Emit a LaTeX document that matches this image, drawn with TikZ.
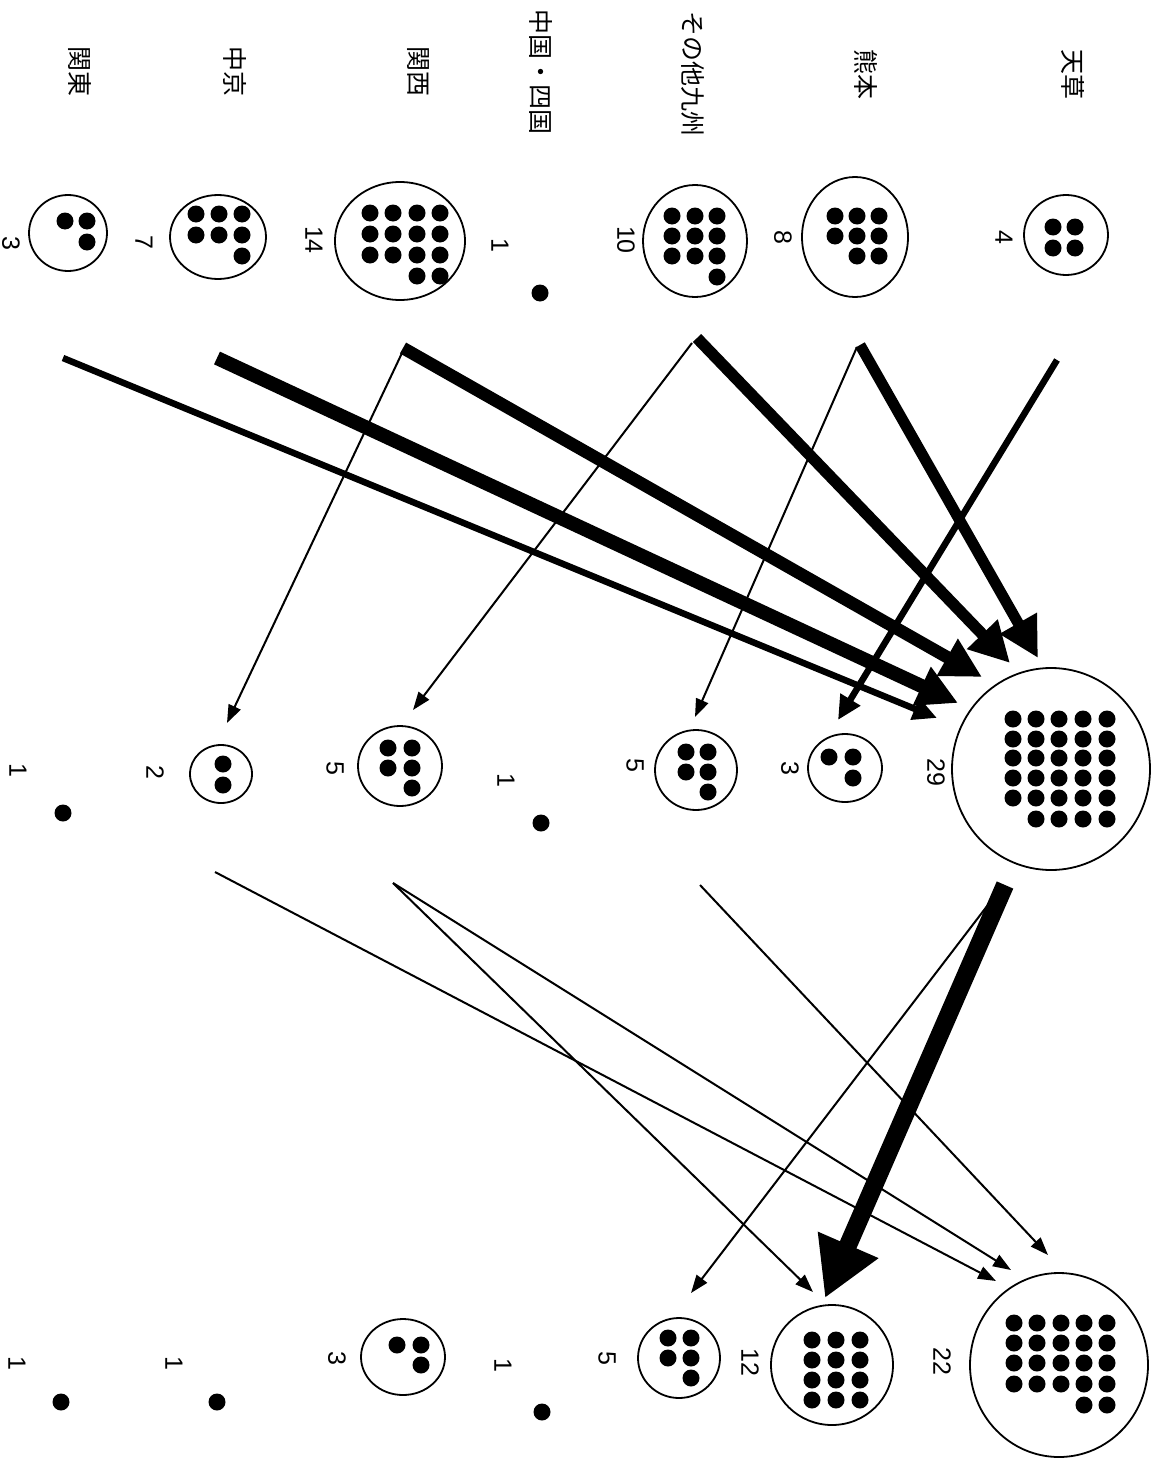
\documentclass[tikz,border=0pt]{standalone}
\usepackage{fontspec}
\setmainfont{Liberation Sans}
\newfontfamily\jp{Noto Sans CJK JP}
\usetikzlibrary{arrows.meta,shapes.geometric}
\begin{document}
\begin{tikzpicture}[x=1pt,y=-1pt,
  ring/.style={draw, ellipse, line width=1.8pt, inner sep=0pt},
  num/.style={rotate=-90, font=\fontsize{25}{25}\selectfont, inner sep=0pt},
  region/.style={rotate=-90, font=\jp\fontsize{25}{25}\selectfont, inner sep=0pt},
  thinarr/.style={line width=2pt, -{Triangle[length=18pt,width=13pt]}},
  medarr/.style={line width=6.5pt, -{Triangle[length=24pt,width=22pt]}},
  thickarr/.style={-{Triangle[length=40pt,width=40pt]}},
  hugearr/.style={line width=18pt, -{Triangle[length=58pt,width=62pt]}},
]
\useasboundingbox (0,0) rectangle (1155,1472);
\fill[white] (0,0) rectangle (1155,1472);

% ---------- region labels ----------
\node[region] (r1) at (1073,74) {天草};
\node[region] (r2) at (866,74) {熊本};
\node[region] (r3) at (693,74) {その他九州};
\node[region] (r4) at (541,72) {中国・四国};
\node[region] (r5) at (418,72) {関西};
\node[region] (r6) at (235,72) {中京};
\node[region] (r7) at (80,72) {関東};

% ---------- column 1 ----------
\node[ring, minimum width=84pt, minimum height=80pt] (p1) at (1066,235) {};
\foreach \y in {227,248} \foreach \x in {1053,1075} \fill (\x,\y) circle[radius=8.5pt];
\node[num] (n1) at (1004,237) {4};

\node[ring, minimum width=106pt, minimum height=120pt] (p2) at (855,237) {};
\foreach \y in {216,236} \foreach \x in {835,857,879} \fill (\x,\y) circle[radius=8.5pt];
\foreach \x in {857,879} \fill (\x,256) circle[radius=8.5pt];
\node[num] (n2) at (783,237) {8};

\node[ring, minimum width=104pt, minimum height=112pt] (p3) at (695,241) {};
\foreach \y in {216,236,256} \foreach \x in {672,695,717} \fill (\x,\y) circle[radius=8.5pt];
\fill (717,277) circle[radius=8.5pt];
\node[num] (n3) at (626,240) {10};

\node[circle, fill, inner sep=0pt, minimum size=17pt] (p4) at (540,293) {};
\node[num] (n4) at (500,245) {1};

\node[ring, minimum width=130pt, minimum height=118pt] (p5) at (400,241) {};
\foreach \y in {213,234,255} \foreach \x in {370,393,417,440} \fill (\x,\y) circle[radius=8.5pt];
\foreach \x in {417,440} \fill (\x,276) circle[radius=8.5pt];
\node[num] (n5) at (314,240) {14};

\node[ring, minimum width=96pt, minimum height=84pt] (p6) at (218,237) {};
\foreach \y in {214,235} \foreach \x in {196,219,242} \fill (\x,\y) circle[radius=8.5pt];
\fill (242,256) circle[radius=8.5pt];
\node[num] (n6) at (144,242) {7};

\node[ring, minimum width=78pt, minimum height=76pt] (p7) at (68,233) {};
\fill (65,221) circle[radius=8.5pt];
\fill (87,221) circle[radius=8.5pt];
\fill (87,242) circle[radius=8.5pt];
\node[num] (n7) at (11,243) {3};

% ---------- column 2 ----------
\node[ring, minimum width=198pt, minimum height=202pt] (q1) at (1051,769) {};
\foreach \y in {719,739,758,778,798} \foreach \x in {1013,1036,1059,1083,1107} \fill (\x,\y) circle[radius=8.5pt];
\foreach \x in {1036,1059,1083,1107} \fill (\x,819) circle[radius=8.5pt];
\node[num] (m1) at (936,772) {29};

\node[ring, minimum width=74pt, minimum height=68pt] (q2) at (845,768) {};
\fill (829,757) circle[radius=8.5pt];
\fill (853,757) circle[radius=8.5pt];
\fill (853,778) circle[radius=8.5pt];
\node[num] (m2) at (790,768) {3};

\node[ring, minimum width=82pt, minimum height=80pt] (q3) at (696,770) {};
\foreach \y in {752,772} \foreach \x in {686,708} \fill (\x,\y) circle[radius=8.5pt];
\fill (708,792) circle[radius=8.5pt];
\node[num] (m3) at (635,765) {5};

\node[circle, fill, inner sep=0pt, minimum size=17pt] (q4) at (541,823) {};
\node[num] (m4) at (506,780) {1};

\node[ring, minimum width=84pt, minimum height=80pt] (q5) at (400,766) {};
\foreach \y in {748,768} \foreach \x in {388,412} \fill (\x,\y) circle[radius=8.5pt];
\fill (412,788) circle[radius=8.5pt];
\node[num] (m5) at (335,768) {5};

\node[ring, minimum width=62pt, minimum height=58pt] (q6) at (221,774) {};
\fill (223,764) circle[radius=8.5pt];
\fill (223,785) circle[radius=8.5pt];
\node[num] (m6) at (155,772) {2};

\node[circle, fill, inner sep=0pt, minimum size=17pt] (q7) at (63,813) {};
\node[num] (m7) at (18,770) {1};

% ---------- column 3 ----------
\node[ring, minimum width=178pt, minimum height=184pt] (s1) at (1059,1365) {};
\foreach \y in {1323,1343,1363,1384} \foreach \x in {1014,1037,1061,1084,1107} \fill (\x,\y) circle[radius=8.5pt];
\foreach \x in {1084,1107} \fill (\x,1405) circle[radius=8.5pt];
\node[num] (k1) at (942,1361) {22};

\node[ring, minimum width=122pt, minimum height=120pt] (s2) at (832,1365) {};
\foreach \y in {1340,1360,1380,1400} \foreach \x in {812,836,860} \fill (\x,\y) circle[radius=8.5pt];
\node[num] (k2) at (750,1362) {12};

\node[ring, minimum width=82pt, minimum height=80pt] (s3) at (679,1358) {};
\foreach \y in {1338,1358} \foreach \x in {668,691} \fill (\x,\y) circle[radius=8.5pt];
\fill (691,1378) circle[radius=8.5pt];
\node[num] (k3) at (607,1358) {5};

\node[circle, fill, inner sep=0pt, minimum size=17pt] (s4) at (542,1412) {};
\node[num] (k4) at (503,1365) {1};

\node[ring, minimum width=84pt, minimum height=76pt] (s5) at (403,1357) {};
\fill (397,1345) circle[radius=8.5pt];
\fill (421,1345) circle[radius=8.5pt];
\fill (421,1365) circle[radius=8.5pt];
\node[num] (k5) at (337,1358) {3};

\node[circle, fill, inner sep=0pt, minimum size=17pt] (s6) at (217,1402) {};
\node[num] (k6) at (174,1363) {1};

\node[circle, fill, inner sep=0pt, minimum size=17pt] (s7) at (61,1402) {};
\node[num] (k7) at (17,1363) {1};

% ---------- arrow end points ----------
\coordinate (a1s) at (1057,360); \coordinate (a1t) at (838,720);
\coordinate (a2s) at (860,345);  \coordinate (a2t) at (1038,658);
\coordinate (a3s) at (857,347);  \coordinate (a3t) at (695,717);
\coordinate (a4s) at (697,338);  \coordinate (a4t) at (1010,663);
\coordinate (a5s) at (692,343);  \coordinate (a5t) at (413,710);
\coordinate (a6s) at (403,348);  \coordinate (a6t) at (982,677);
\coordinate (a7s) at (402,353);  \coordinate (a7t) at (227,723);
\coordinate (a8s) at (217,358);  \coordinate (a8t) at (958,703);
\coordinate (a9s) at (63,358);   \coordinate (a9t) at (937,718);
\coordinate (b1s) at (1005,885); \coordinate (b1t) at (825,1298);
\coordinate (b2s) at (994,897);  \coordinate (b2t) at (691,1293);
\coordinate (b3s) at (700,885);  \coordinate (b3t) at (1048,1255);
\coordinate (b4s) at (393,883);  \coordinate (b4t) at (1011,1270);
\coordinate (b5s) at (215,872);  \coordinate (b5t) at (996,1281);
\coordinate (b6s) at (393,883);  \coordinate (b6t) at (813,1292);

% ---------- arrows ----------
\draw[thinarr] (a3s) -- (a3t);
\draw[thinarr] (a5s) -- (a5t);
\draw[thinarr] (a7s) -- (a7t);
\draw[medarr] (a9s) -- (a9t);
\draw[thickarr, line width=14pt] (a8s) -- (a8t);
\draw[thickarr, line width=12.5pt] (a6s) -- (a6t);
\draw[thickarr, line width=11.5pt] (a4s) -- (a4t);
\draw[thickarr, line width=11pt] (a2s) -- (a2t);
\draw[medarr] (a1s) -- (a1t);

\draw[thinarr] (b3s) -- (b3t);
\draw[thinarr] (b4s) -- (b4t);
\draw[thinarr] (b5s) -- (b5t);
\draw[thinarr] (b6s) -- (b6t);
\draw[thinarr] (b2s) -- (b2t);
\draw[hugearr] (b1s) -- (b1t);
\end{tikzpicture}
\end{document}
